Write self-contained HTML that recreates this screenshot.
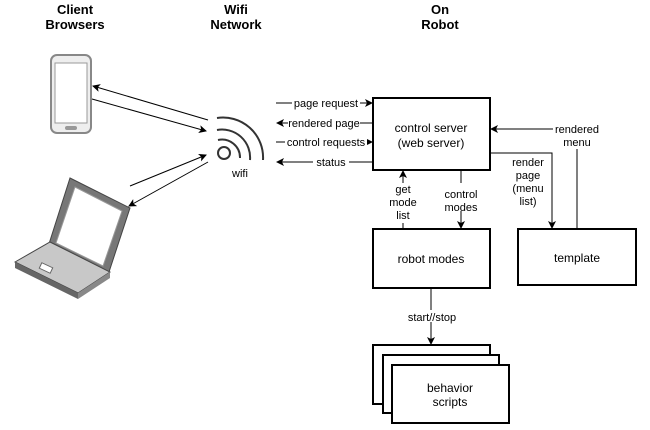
<!DOCTYPE html>
<html><head><style>body{margin:0;background:#fff}</style></head><body>
<svg width="650" height="425" xmlns="http://www.w3.org/2000/svg" font-family="Liberation Sans, sans-serif">
<defs><marker id="a" markerWidth="8" markerHeight="8" refX="7" refY="4" orient="auto" markerUnits="userSpaceOnUse"><path d="M0,0 L8,4 L0,8 L2,4z" fill="#000"/></marker></defs>
<g font-weight="bold" font-size="13" text-anchor="middle">
<text x="75" y="14">Client</text><text x="75" y="29">Browsers</text>
<text x="236" y="14">Wifi</text><text x="236" y="29">Network</text>
<text x="440" y="14">On</text><text x="440" y="29">Robot</text></g>
<!-- phone -->
<rect x="51" y="55" width="40" height="78" rx="6" fill="#eee" stroke="#888" stroke-width="2"/>
<rect x="55" y="63" width="32" height="60" fill="#fff" stroke="#999"/>
<rect x="65" y="126" width="12" height="4" rx="2" fill="#999"/>
<!-- laptop -->
<path d="M70,178 L130,208 L108,275 L48,247z" fill="#777" stroke="#444"/>
<path d="M75,187 L122,211 L103,266 L56,243z" fill="#fff" stroke="#999"/>
<path d="M15,262 L50,242 L110,272 L78,293z" fill="#c8c8c8" stroke="#444"/>
<path d="M15,262 L78,293 L78,299 L15,268z" fill="#666"/>
<path d="M110,272 L110,278 L78,299 L78,293z" fill="#888"/>
<rect x="40" y="265" width="12" height="6" fill="#fff" stroke="#666" transform="rotate(25 46 268)"/>
<!-- wifi -->
<g fill="none" stroke="#333" stroke-width="2">
<circle cx="224" cy="153" r="6"/>
<path d="M218,140 A18,18 0 0 1 240,158 M217,130 A28,28 0 0 1 250,160 M217,118 A40,40 0 0 1 263,160"/>
</g>
<text x="240" y="177" font-size="11" text-anchor="middle">wifi</text>
<g stroke="#000" stroke-width="1" fill="none" marker-end="url(#a)">
<line x1="208" y1="120" x2="93" y2="86"/>
<line x1="92" y1="99" x2="206" y2="131"/>
<line x1="130" y1="186" x2="206" y2="155"/>
<line x1="208" y1="162" x2="129" y2="206"/>
<line x1="276" y1="103" x2="372" y2="103"/>
<line x1="373" y1="123" x2="277" y2="123"/>
<line x1="276" y1="142" x2="372" y2="142"/>
<line x1="373" y1="162" x2="277" y2="162"/>
<line x1="403" y1="229" x2="403" y2="171"/>
<polyline points="461,170 461,228"/>
<polyline points="490,153 552,153 552,228"/>
<polyline points="577,229 577,129 491,129"/>
<line x1="431" y1="288" x2="431" y2="344"/>
</g>
<g font-size="11" text-anchor="middle">
<g fill="#fff"><rect x="292" y="97" width="68" height="12"/><rect x="288" y="117" width="72" height="12"/><rect x="285" y="136" width="82" height="12"/><rect x="313" y="156" width="36" height="12"/><rect x="553" y="123" width="48" height="26"/><rect x="395" y="183" width="17" height="40"/><rect x="442" y="183" width="36" height="28"/><rect x="512" y="155" width="37" height="56"/><rect x="405" y="310" width="52" height="12"/></g>
<text x="326" y="107">page request</text><text x="324" y="127">rendered page</text><text x="326" y="146">control requests</text><text x="331" y="166">status</text>
<text x="403" y="193">get</text><text x="403" y="206">mode</text><text x="403" y="219">list</text>
<text x="461" y="198">control</text><text x="461" y="211">modes</text>
<text x="528" y="166">render</text><text x="528" y="179">page</text><text x="528" y="192">(menu</text><text x="528" y="205">list)</text>
<text x="577" y="133">rendered</text><text x="577" y="146">menu</text>
<text x="432" y="321">start//stop</text>
</g>
<g fill="#fff" stroke="#000" stroke-width="2">
<rect x="373" y="98" width="117" height="72"/>
<rect x="373" y="229" width="117" height="59"/>
<rect x="518" y="229" width="118" height="56"/>
<rect x="373" y="345" width="117" height="59"/>
<rect x="383" y="355" width="116" height="58"/>
<rect x="392" y="365" width="117" height="58"/>
</g>
<g font-size="12" text-anchor="middle">
<text x="431" y="132">control server</text><text x="431" y="147">(web server)</text>
<text x="431" y="263">robot modes</text><text x="577" y="262">template</text>
<text x="450" y="392">behavior</text><text x="450" y="406">scripts</text>
</g>
</svg>
</body></html>
